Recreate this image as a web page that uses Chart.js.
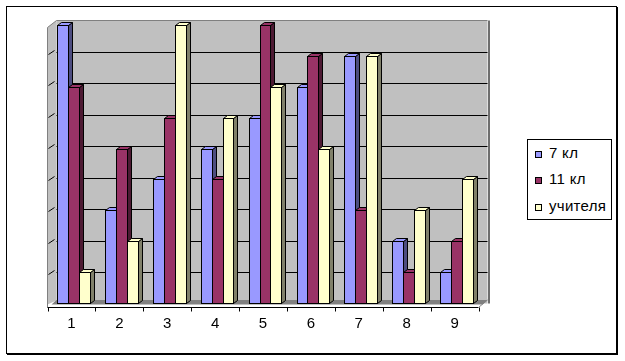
<!DOCTYPE html>
<html>
<head>
<meta charset="utf-8">
<script src="https://cdn.jsdelivr.net/npm/chart.js@4/dist/chart.umd.min.js"></script>
<style>
body { margin:0; background:#fff; }
#wrap { position:relative; width:625px; height:361px; }
#legend {
    position:absolute; left:527px; top:139px; width:83px; height:79px;
    border:1px solid #000; background:#fff;
    font:15px Arial, "Liberation Sans", sans-serif; color:#000;
}
.item { position:absolute; left:7px; height:18px; line-height:18px; white-space:nowrap; letter-spacing:0.3px; }
.box { display:inline-block; width:5px; height:5px; border:1px solid #000; margin-right:7px; }
</style>
</head>
<body>
<div id="wrap">
    <canvas id="chart" width="625" height="361"></canvas>
    <div id="legend"></div>
</div>
<script>
// ==========================================================
// DATA
// ==========================================================

const categories = ["1", "2", "3", "4", "5", "6", "7", "8", "9"];
const class7     = [9, 3, 4, 5, 6, 7, 8, 2, 1];
const class11    = [7, 5, 6, 4, 9, 8, 3, 1, 2];
const teachers   = [1, 2, 9, 6, 7, 5, 8, 3, 4];

const seriesNames = ["7 кл", "11 кл", "учителя"];
const seriesData  = [class7, class11, teachers];

// colours (front face / dark side face)
const frontColors = ["#9999FF", "#993366", "#FFFFCC"];
const sideColors  = ["#4D4D80", "#4D1A33", "#80806A"];


// ==========================================================
// 3D LOOK — walls, floor, axis, bars with depth
// ==========================================================

const BAR_SHIFT = 2;     // bars sit a little behind the front edge
const BAR_DX = 4, BAR_DY = 3;
const WALL_DX = 9;
const WALL_TOP = 20.5, WALL_BOTTOM = 303.5;
const AXIS_Y = 307.5;

const look3d = {
    id: "look3d",

    beforeDraw(chart)
    {
        const c = chart.ctx;
        const xs = chart.scales.x, ys = chart.scales.y;
        const L = xs.left, R = xs.right;

        c.save();
        c.fillStyle = "#fff";
        c.fillRect(0, 0, chart.width, chart.height);

        // outer frame with small shadow
        c.strokeStyle = "#000";
        c.lineWidth = 1;
        c.strokeRect(6.5, 6.5, 610, 347);
        c.fillStyle = "#000";
        c.fillRect(617, 7, 1, 348);
        c.fillRect(7, 354, 611, 1);

        // back wall
        c.fillStyle = "#C0C0C0";
        c.fillRect(L + WALL_DX, WALL_TOP, R - L, WALL_BOTTOM - WALL_TOP);
        c.strokeStyle = "#808080";
        c.beginPath();
        c.moveTo(L + WALL_DX, WALL_TOP);
        c.lineTo(R + WALL_DX, WALL_TOP);
        c.stroke();
        c.fillStyle = "#6E6E6E";
        c.fillRect(Math.round(R + WALL_DX), WALL_TOP, 2, WALL_BOTTOM - WALL_TOP);

        // left wall
        c.fillStyle = "#C0C0C0";
        c.beginPath();
        c.moveTo(L, WALL_TOP + 7);
        c.lineTo(L + WALL_DX, WALL_TOP);
        c.lineTo(L + WALL_DX, WALL_BOTTOM - 3);
        c.lineTo(L, AXIS_Y - 3);
        c.closePath();
        c.fill();
        c.strokeStyle = "#808080";
        c.beginPath();
        c.moveTo(L, AXIS_Y);
        c.lineTo(L, WALL_TOP + 7);
        c.lineTo(L + WALL_DX, WALL_TOP);
        c.stroke();

        // gridlines on back wall + slanted ticks on the left wall
        c.strokeStyle = "#000";
        const span = ys.max - ys.min;
        for (let v = ys.min + 1; v < ys.max; v++)
        {
            const gy = Math.round(WALL_BOTTOM - (v - ys.min) / span * (WALL_BOTTOM - WALL_TOP)) + 0.5;
            c.beginPath();
            c.moveTo(L + WALL_DX, gy);
            c.lineTo(R + WALL_DX, gy);
            c.stroke();
            c.beginPath();
            c.moveTo(L + 1, gy + 2);
            c.lineTo(L + 7, gy - 2);
            c.stroke();
        }

        // floor
        c.fillStyle = "#808080";
        c.beginPath();
        c.moveTo(L + 4, WALL_BOTTOM + 1);
        c.lineTo(L + WALL_DX, WALL_BOTTOM - 3.5);
        c.lineTo(R + WALL_DX, WALL_BOTTOM - 3.5);
        c.lineTo(R + 4, WALL_BOTTOM + 1);
        c.closePath();
        c.fill();

        // x axis line, its end and tick marks
        c.strokeStyle = "#000";
        c.beginPath();
        c.moveTo(L, AXIS_Y);
        c.lineTo(R, AXIS_Y);
        c.stroke();
        c.strokeStyle = "#808080";
        c.beginPath();
        c.moveTo(R, AXIS_Y);
        c.lineTo(R + WALL_DX, WALL_BOTTOM - 3.5);
        c.stroke();

        c.strokeStyle = "#000";
        const n = categories.length;
        for (let i = 0; i <= n; i++)
        {
            const tx = Math.round(L + (R - L) * i / n) + 0.5;
            c.beginPath();
            c.moveTo(tx, AXIS_Y);
            c.lineTo(tx, AXIS_Y + 4);
            c.stroke();
        }
        c.restore();
    },

    // bars drawn here, in dataset order, so later series cover the side of earlier ones
    beforeDatasetsDraw(chart)
    {
        const c = chart.ctx;
        c.save();
        c.lineWidth = 1;
        c.strokeStyle = "#000";

        chart.data.datasets.forEach((ds, i) =>
        {
            chart.getDatasetMeta(i).data.forEach(bar =>
            {
                const l = Math.round(bar.x - bar.width / 2 + BAR_SHIFT) + 0.5;
                const r = Math.round(bar.x + bar.width / 2 + BAR_SHIFT) + 0.5;
                const t = Math.round(bar.y) + 0.5;
                const b = Math.round(bar.base) + 0.5;

                // side face
                c.fillStyle = sideColors[i];
                c.beginPath();
                c.moveTo(r, t);
                c.lineTo(r + BAR_DX, t - BAR_DY);
                c.lineTo(r + BAR_DX, b - BAR_DY);
                c.lineTo(r, b);
                c.closePath();
                c.fill();
                c.stroke();

                // top face
                c.fillStyle = frontColors[i];
                c.beginPath();
                c.moveTo(l, t);
                c.lineTo(l + BAR_DX, t - BAR_DY);
                c.lineTo(r + BAR_DX, t - BAR_DY);
                c.lineTo(r, t);
                c.closePath();
                c.fill();
                c.stroke();

                // front face
                c.fillRect(l, t, r - l, b - t);
                c.strokeRect(l, t, r - l, b - t);
            });
        });

        c.restore();
        return false;
    }
};


// ==========================================================
// CHART
// ==========================================================

const chart = new Chart(document.getElementById("chart"),
{
    type: "bar",
    data: {
        labels: categories,
        datasets: seriesNames.map((name, i) => ({
            label: name,
            data: seriesData[i],
            backgroundColor: frontColors[i],
            borderColor: "#000",
            borderWidth: 1,
            categoryPercentage: 0.68,
            barPercentage: 1.0
        }))
    },
    options: {
        responsive: false,
        animation: false,
        devicePixelRatio: 1,
        layout: {
            padding: { left: 47.5, right: 146.5, top: 25, bottom: 16 }
        },
        plugins: {
            legend: { display: false },
            tooltip: { enabled: false }
        },
        scales: {
            x: {
                grid: { display: false, drawTicks: false },
                border: { display: false },
                ticks: {
                    color: "#000",
                    padding: 12,
                    font: { family: "Arial, 'Liberation Sans', sans-serif", size: 15 }
                }
            },
            y: {
                display: false,
                min: 0,
                max: 9,
                ticks: { stepSize: 1 }
            }
        }
    },
    plugins: [look3d]
});


// ==========================================================
// LEGEND
// ==========================================================

const legendTops = [4, 30, 57];
const legendEl = document.getElementById("legend");
seriesNames.forEach((name, i) =>
{
    const item = document.createElement("div");
    item.className = "item";
    item.style.top = legendTops[i] + "px";
    const box = document.createElement("span");
    box.className = "box";
    box.style.background = frontColors[i];
    item.appendChild(box);
    item.appendChild(document.createTextNode(name));
    legendEl.appendChild(item);
});
</script>
</body>
</html>
